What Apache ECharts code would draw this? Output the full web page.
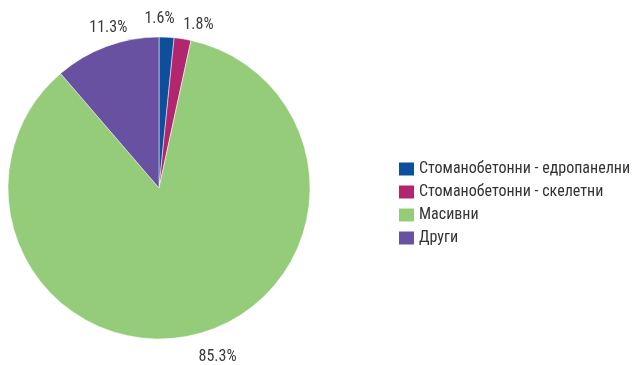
<!DOCTYPE html>
<html>
<head>
<meta charset="utf-8">
<script src="https://cdn.jsdelivr.net/npm/echarts@6/dist/echarts.min.js"></script>
<style>
  html, body { margin: 0; padding: 0; background: #fff; }
  #chart { width: 635px; height: 365px; }
</style>
</head>
<body>
<div id="chart"></div>
<script>
// Share of buildings by construction type, %
const categories = [
  'Стоманобетонни - едропанелни',
  'Стоманобетонни - скелетни',
  'Масивни',
  'Други'
];
const shares = [1.6, 1.8, 85.3, 11.3];
const colors = ['#0E4F9B', '#B2256F', '#95CC79', '#6751A0'];

const FONT = '"Roboto Condensed", "DejaVu Sans Condensed", sans-serif';
const CX = 159, CY = 188, R = 151, LABEL_GAP = 18;
// small per-label nudges (px) so neighbouring labels of thin slices don't collide
const labelNudge = [[-8, 0], [13, 4], [17, 5], [8, -2]];

const total = shares.reduce((a, b) => a + b, 0);
const starts = [];
shares.reduce((acc, v) => { starts.push(acc); return acc + v; }, 0);

const chart = echarts.init(document.getElementById('chart'), null, { renderer: 'canvas' });
chart.setOption({
  animation: false,
  backgroundColor: '#ffffff',
  color: colors,
  legend: {
    orient: 'vertical',
    left: 399,
    top: 161,
    padding: 0,
    itemWidth: 15,
    itemHeight: 13,
    itemGap: 7,
    icon: 'rect',
    itemStyle: { borderWidth: 0 },
    textStyle: { fontFamily: FONT, fontSize: 16, color: '#333333' },
    data: categories
  },
  series: [{
    type: 'pie',
    center: [CX, CY],
    radius: R,
    startAngle: 90,
    clockwise: true,
    avoidLabelOverlap: false,
    itemStyle: { borderColor: '#ffffff', borderWidth: 0.5 },
    label: {
      show: true,
      position: 'outside',
      formatter: p => p.value.toFixed(1) + '%',
      fontFamily: FONT,
      fontSize: 16,
      color: '#3a3a3a'
    },
    labelLine: { show: false },
    labelLayout: p => {
      const i = p.dataIndex;
      const mid = (starts[i] + shares[i] / 2) / total * Math.PI * 2;
      const d = R + LABEL_GAP;
      return {
        x: CX + d * Math.sin(mid) + labelNudge[i][0],
        y: CY - d * Math.cos(mid) + labelNudge[i][1],
        align: 'center',
        verticalAlign: 'middle'
      };
    },
    data: categories.map((name, i) => ({ name, value: shares[i] }))
  }]
});
</script>
</body>
</html>
